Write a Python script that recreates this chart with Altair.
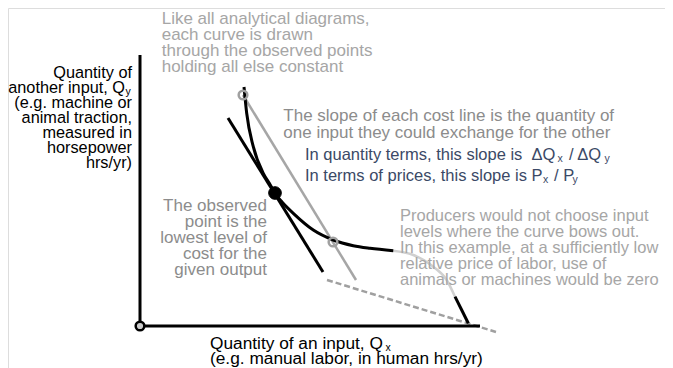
import altair as alt
import pandas as pd

# ---- diagram values (Qx, Qy in diagram units) ----
# isoquant: upper black branch
curve_qx = [10.4, 10.67, 11.33, 12.33, 12.95, 13.5, 14.2, 15.33, 17.33, 19.33, 21.33, 23.0, 25.33]
curve_qy = [23.9, 21.27, 17.93, 15.27, 14.25, 13.27, 12.4, 11.27, 9.6, 8.6, 8.03, 7.77, 7.53]
# isoquant: part that bows out (light gray)
bow_qx = [25.33, 27.33, 29.33, 30.67, 31.5]
bow_qy = [7.53, 7.1, 5.93, 4.6, 2.93]
# isoquant: lower black tail
tail_qx = [31.5, 32.17, 32.83]
tail_qy = [2.93, 1.6, 0.27]
# cost lines
tangent_qx = [8.8, 18.3]
tangent_qy = [20.8, 5.4]
gray_cost_qx = [10.3, 21.6]
gray_cost_qy = [23.1, 4.6]
dashed_cost_qx = [18.7, 35.6]
dashed_cost_qy = [4.6, -0.6]
# axes
yaxis_qx = [0, 0]
yaxis_qy = [0, 27.1]
xaxis_qx = [0, 34]
xaxis_qy = [0, 0]
# points
observed_qx = [13.5]
observed_qy = [13.3]
gray_pts_qx = [10.3, 19.3]
gray_pts_qy = [23.1, 8.4]
origin_qx = [0]
origin_qy = [0]

# ---- text ----
top_lines = ["Like all analytical diagrams,", "each curve is drawn",
             "through the observed points", "holding all else constant"]
ytitle_lines = ["Quantity of", "another input, Q", "(e.g. machine or",
                "animal traction,", "measured in", "horsepower", "hrs/yr)"]
slope_lines = ["The slope of each cost line is the quantity of",
               "one input they could exchange for the other"]
blue_lines = ["In quantity terms, this slope is \u00a0\u0394Q", "In terms of prices, this slope is P"]
observed_lines = ["The observed", "point is the", "lowest level of", "cost for the", "given output"]
producers_lines = ["Producers would not choose input", "levels where the curve bows out.",
                   "In this example, at a sufficiently low", "relative price of labor, use of",
                   "animals or machines would be zero"]
xtitle_lines = ["Quantity of an input, Q", "(e.g. manual labor, in human hrs/yr)"]

FONT = "Liberation Sans, Arial, Helvetica, sans-serif"
XS = alt.Scale(domain=[-13.2, 52.5], nice=False, zero=False)
YS = alt.Scale(domain=[-4.2, 31.8], nice=False, zero=False)


def xy():
    return dict(x=alt.X("qx:Q", scale=XS, axis=None), y=alt.Y("qy:Q", scale=YS, axis=None))


def line_layer(qx, qy, color, width, dash=None, interp="linear"):
    df = pd.DataFrame({"qx": qx, "qy": qy, "o": list(range(len(qx)))})
    mk = dict(color=color, strokeWidth=width, interpolate=interp, strokeCap="butt")
    if dash:
        mk["strokeDash"] = dash
    return alt.Chart(df).mark_line(**mk).encode(order="o:Q", **xy())


def point_layer(qx, qy, size, fill, stroke, sw):
    df = pd.DataFrame({"qx": qx, "qy": qy})
    return alt.Chart(df).mark_point(shape="circle", size=size, filled=True, fill=fill,
                                    stroke=stroke, strokeWidth=sw, opacity=1,
                                    fillOpacity=1).encode(**xy())


def text_layer(lines, qx, qy0, lh, color, align, size=17):
    xs = qx if isinstance(qx, list) else [qx] * len(lines)
    df = pd.DataFrame({"t": lines, "qx": xs, "qy": [qy0 - i * lh for i in range(len(lines))]})
    return alt.Chart(df).mark_text(align=align, baseline="middle", font=FONT, fontSize=size,
                                   color=color).encode(text="t:N", **xy())


GRAY_TXT = "#a6a6a6"
MID_TXT = "#8c8c8c"
BLUE = "#3b4966"

layers = [
    line_layer(dashed_cost_qx, dashed_cost_qy, "#a0a0a0", 2.5, dash=[6, 3]),
    line_layer(gray_cost_qx, gray_cost_qy, "#a6a6a6", 2.5),
    line_layer(bow_qx, bow_qy, "#d0d0d0", 2.5, interp="monotone"),
    line_layer(curve_qx, curve_qy, "black", 3, interp="monotone"),
    line_layer(tail_qx, tail_qy, "black", 3, interp="monotone"),
    line_layer(tangent_qx, tangent_qy, "black", 3),
    line_layer(yaxis_qx, yaxis_qy, "black", 3),
    line_layer(xaxis_qx, xaxis_qy, "black", 3),
    point_layer(gray_pts_qx, gray_pts_qy, 75, "transparent", "#a0a0a0", 2.5),
    point_layer(observed_qx, observed_qy, 160, "black", "black", 1),
    point_layer(origin_qx, origin_qy, 75, "#cccccc", "black", 2.5),
    text_layer(top_lines, 2.17, 30.75, 1.6, GRAY_TXT, "left"),
    text_layer(ytitle_lines, [-0.8, -1.5, -0.8, -0.8, -0.8, -0.8, -0.8], 25.35, 1.5, "black", "right",
               size=16.3),
    text_layer(["y"], -1.45, 23.4, 0, "black", "left", size=10.5),
    text_layer(slope_lines, 14.33, 21.0, 1.65, MID_TXT, "left"),
    text_layer(blue_lines, 16.5, 17.1, 2.1, BLUE, "left", size=16.5),
    text_layer(["x", "x"], [41.75, 40.3], 16.75, 2.1, BLUE, "left", size=10.5),
    text_layer(["/ \u0394Q", "/ P"], [42.9, 41.4], 17.1, 2.1, BLUE, "left", size=16.5),
    text_layer(["y", "y"], [46.45, 43.25], 16.7, 2.1, BLUE, "left", size=10.5),
    text_layer(observed_lines, 12.7, 12.0, 1.6, MID_TXT, "right"),
    text_layer(producers_lines, 26.0, 11.0, 1.6, GRAY_TXT, "left", size=16.5),
    text_layer(xtitle_lines, 7.0, -1.75, 1.5, "black", "left", size=17.3),
    text_layer(["x"], 24.55, -2.15, 0, "black", "left", size=10.5),
]

chart = alt.layer(*layers).properties(
    width=657, height=360, padding=0, autosize=alt.AutoSizeParams(type="none")
).configure_view(stroke=None).configure(background="white")

chart.save("out.html", embed_options={"renderer": "svg", "actions": False})
